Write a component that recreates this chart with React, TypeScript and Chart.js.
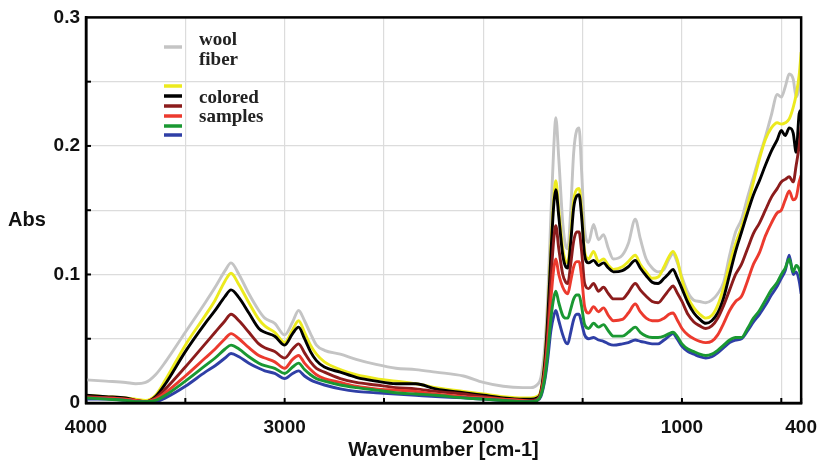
import React, { useEffect, useRef } from "react";
import { Chart, registerables } from "chart.js";
Chart.register(...registerables);

const wavenumbers = [
  4000, 3900, 3800, 3750, 3700, 3650, 3600, 3500, 3400, 3350,
  3300, 3270, 3230, 3180, 3130, 3100, 3050, 3000, 2960, 2930,
  2900, 2870, 2840, 2800, 2720, 2640, 2540, 2440, 2340, 2240,
  2100, 2000, 1900, 1800, 1760, 1730, 1710, 1690, 1675, 1660,
  1645, 1635, 1620, 1600, 1585, 1575, 1560, 1545, 1530, 1518,
  1505, 1490, 1470, 1445, 1420, 1395, 1370, 1345, 1300, 1270,
  1235, 1210, 1180, 1150, 1120, 1090, 1065, 1045, 1025, 1000,
  970, 940, 910, 880, 850, 820, 790, 760, 730, 700,
  670, 640, 610, 580, 550, 520, 500, 480, 460, 440,
  425, 410, 400,
];

const woolFiber = [
  0.018, 0.017, 0.016, 0.015, 0.016, 0.022, 0.032, 0.055, 0.078, 0.090,
  0.103, 0.109, 0.100, 0.085, 0.072, 0.066, 0.062, 0.053, 0.063, 0.072,
  0.064, 0.054, 0.045, 0.041, 0.038, 0.034, 0.030, 0.027, 0.026, 0.024,
  0.021, 0.016, 0.013, 0.012, 0.012, 0.014, 0.020, 0.045, 0.085, 0.145,
  0.200, 0.222, 0.190, 0.140, 0.122, 0.120, 0.150, 0.195, 0.212, 0.214,
  0.180, 0.135, 0.125, 0.139, 0.127, 0.131, 0.120, 0.112, 0.115, 0.124,
  0.143, 0.128, 0.112, 0.105, 0.102, 0.104, 0.112, 0.116, 0.110, 0.098,
  0.086, 0.080, 0.079, 0.078, 0.080, 0.085, 0.094, 0.115, 0.133, 0.143,
  0.160, 0.176, 0.192, 0.207, 0.224, 0.240, 0.238, 0.246, 0.256, 0.252,
  0.238, 0.246, 0.262,
];

const yellowSample = [
  0.006, 0.005, 0.004, 0.003, 0.002, 0.006, 0.018, 0.045, 0.068, 0.080,
  0.095, 0.101, 0.092, 0.078, 0.065, 0.060, 0.055, 0.047, 0.057, 0.064,
  0.055, 0.045, 0.038, 0.032, 0.026, 0.022, 0.019, 0.017, 0.015, 0.012,
  0.009, 0.007, 0.005, 0.004, 0.004, 0.005, 0.010, 0.035, 0.070, 0.120,
  0.160, 0.173, 0.150, 0.120, 0.110, 0.109, 0.130, 0.158, 0.166, 0.167,
  0.150, 0.118, 0.112, 0.118, 0.110, 0.112, 0.107, 0.104, 0.106, 0.110,
  0.115, 0.108, 0.102, 0.097, 0.098, 0.106, 0.114, 0.118, 0.112, 0.096,
  0.082, 0.074, 0.069, 0.066, 0.068, 0.076, 0.090, 0.108, 0.124, 0.137,
  0.153, 0.172, 0.190, 0.205, 0.214, 0.218, 0.217, 0.218, 0.221, 0.230,
  0.240, 0.255, 0.273,
];

const blackSample = [
  0.006, 0.005, 0.004, 0.002, 0.001, 0.005, 0.015, 0.040, 0.062, 0.072,
  0.083, 0.088, 0.082, 0.070, 0.058, 0.055, 0.052, 0.045, 0.054, 0.059,
  0.050, 0.040, 0.033, 0.028, 0.024, 0.020, 0.017, 0.015, 0.015, 0.011,
  0.008, 0.006, 0.004, 0.003, 0.003, 0.004, 0.009, 0.033, 0.068, 0.115,
  0.155, 0.166, 0.145, 0.115, 0.106, 0.105, 0.125, 0.152, 0.161, 0.162,
  0.145, 0.115, 0.109, 0.111, 0.107, 0.109, 0.105, 0.102, 0.103, 0.106,
  0.111, 0.105, 0.099, 0.094, 0.093, 0.097, 0.101, 0.104, 0.098, 0.089,
  0.078, 0.070, 0.065, 0.062, 0.064, 0.070, 0.082, 0.100, 0.118, 0.133,
  0.148, 0.162, 0.173, 0.185, 0.196, 0.205, 0.212, 0.208, 0.214, 0.210,
  0.195, 0.225, 0.228,
];

const brownSample = [
  0.005, 0.004, 0.003, 0.002, 0.001, 0.004, 0.011, 0.028, 0.046, 0.055,
  0.064, 0.069, 0.064, 0.055, 0.046, 0.043, 0.040, 0.035, 0.042, 0.046,
  0.039, 0.032, 0.027, 0.024, 0.019, 0.016, 0.014, 0.012, 0.011, 0.009,
  0.007, 0.005, 0.003, 0.002, 0.002, 0.003, 0.008, 0.028, 0.057, 0.095,
  0.128, 0.138, 0.120, 0.100, 0.094, 0.093, 0.108, 0.126, 0.133, 0.133,
  0.118, 0.093, 0.089, 0.093, 0.087, 0.090, 0.085, 0.081, 0.081, 0.086,
  0.093, 0.088, 0.083, 0.079, 0.078, 0.083, 0.088, 0.091, 0.086, 0.079,
  0.069, 0.063, 0.060, 0.058, 0.060, 0.066, 0.076, 0.088, 0.100, 0.108,
  0.120, 0.132, 0.140, 0.150, 0.160, 0.167, 0.172, 0.174, 0.176, 0.172,
  0.185, 0.200, 0.215,
];

const redSample = [
  0.004, 0.004, 0.003, 0.002, 0.001, 0.003, 0.008, 0.021, 0.035, 0.042,
  0.050, 0.054, 0.050, 0.043, 0.037, 0.035, 0.032, 0.027, 0.034, 0.037,
  0.031, 0.026, 0.022, 0.019, 0.016, 0.013, 0.011, 0.010, 0.009, 0.007,
  0.005, 0.004, 0.003, 0.002, 0.001, 0.002, 0.007, 0.025, 0.048, 0.080,
  0.105, 0.112, 0.100, 0.090, 0.086, 0.085, 0.095, 0.106, 0.110, 0.110,
  0.098, 0.075, 0.070, 0.075, 0.071, 0.074, 0.068, 0.064, 0.065, 0.070,
  0.077, 0.071, 0.066, 0.064, 0.064, 0.066, 0.069, 0.070, 0.065, 0.058,
  0.053, 0.050, 0.048, 0.047, 0.048, 0.053, 0.062, 0.072, 0.079, 0.083,
  0.095, 0.108, 0.117, 0.130, 0.140, 0.148, 0.150, 0.158, 0.165, 0.158,
  0.160, 0.172, 0.177,
];

const greenSample = [
  0.004, 0.003, 0.002, 0.001, 0.001, 0.002, 0.006, 0.017, 0.029, 0.035,
  0.042, 0.045, 0.042, 0.036, 0.031, 0.029, 0.027, 0.023, 0.028, 0.031,
  0.026, 0.022, 0.019, 0.017, 0.014, 0.012, 0.010, 0.008, 0.007, 0.006,
  0.004, 0.003, 0.002, 0.001, 0.001, 0.002, 0.006, 0.020, 0.040, 0.065,
  0.082, 0.087, 0.078, 0.068, 0.066, 0.066, 0.073, 0.081, 0.084, 0.084,
  0.075, 0.061, 0.058, 0.062, 0.059, 0.061, 0.056, 0.052, 0.052, 0.055,
  0.059, 0.055, 0.052, 0.051, 0.051, 0.052, 0.054, 0.055, 0.052, 0.046,
  0.042, 0.040, 0.038, 0.037, 0.038, 0.041, 0.045, 0.049, 0.051, 0.051,
  0.058, 0.066, 0.072, 0.080, 0.088, 0.094, 0.100, 0.105, 0.112, 0.102,
  0.107, 0.104, 0.097,
];

const blueSample = [
  0.003, 0.003, 0.002, 0.001, 0.001, 0.001, 0.004, 0.013, 0.024, 0.029,
  0.035, 0.0385, 0.036, 0.031, 0.027, 0.025, 0.023, 0.019, 0.023, 0.025,
  0.021, 0.018, 0.016, 0.014, 0.011, 0.009, 0.008, 0.007, 0.006, 0.005,
  0.004, 0.003, 0.002, 0.001, 0.001, 0.002, 0.005, 0.018, 0.035, 0.056,
  0.068, 0.072, 0.064, 0.053, 0.047, 0.046, 0.055, 0.065, 0.069, 0.069,
  0.062, 0.053, 0.050, 0.051, 0.049, 0.048, 0.046, 0.045, 0.046, 0.047,
  0.049, 0.048, 0.047, 0.046, 0.046, 0.049, 0.052, 0.054, 0.050, 0.044,
  0.040, 0.038, 0.036, 0.035, 0.036, 0.039, 0.043, 0.047, 0.049, 0.050,
  0.056, 0.063, 0.069, 0.076, 0.084, 0.091, 0.097, 0.103, 0.115, 0.100,
  0.102, 0.095, 0.085,
];

const xGridTicks = [4000, 3500, 3000, 2500, 2000, 1500, 1000, 500, 400];
const xLabelTicks = [4000, 3000, 2000, 1000, 400];

const woolLabel = ["wool", "fiber"];
const samplesLabel = ["colored", "samples"];
const sampleColors = ["#ecea1e", "#000000", "#8c1c1c", "#ec3a2e", "#1a9832", "#2f3fa6"];
const woolColor = "#c4c4c4";

export default function App() {
  const ref = useRef<HTMLCanvasElement>(null);

  useEffect(() => {
    if (!ref.current) return;
    const mk = (label: string, vals: number[], color: string, order: number) => ({
      label,
      data: wavenumbers.map((w, i) => ({ x: w, y: vals[i] })),
      borderColor: color,
      backgroundColor: color,
      borderWidth: 2.9,
      pointRadius: 0,
      fill: false,
      cubicInterpolationMode: "monotone" as const,
      order,
    });

    const decor = {
      id: "decor",
      afterDraw(chart: any) {
        const ctx = chart.ctx;
        const a = chart.chartArea;
        const xs = chart.scales.x;
        const ys = chart.scales.y;
        ctx.save();
        // inner tick marks
        ctx.strokeStyle = "#000";
        ctx.lineWidth = 2;
        xGridTicks.forEach((v) => {
          const px = xs.getPixelForValue(v);
          ctx.beginPath();
          ctx.moveTo(px, a.bottom);
          ctx.lineTo(px, a.bottom - 5);
          ctx.stroke();
        });
        [0.05, 0.1, 0.15, 0.2, 0.25].forEach((v) => {
          const py = ys.getPixelForValue(v);
          ctx.beginPath();
          ctx.moveTo(a.left, py);
          ctx.lineTo(a.left + 5, py);
          ctx.stroke();
        });
        // frame
        ctx.lineWidth = 2.5;
        ctx.strokeRect(a.left, a.top, a.right - a.left, a.bottom - a.top);

        // Abs label
        ctx.fillStyle = "#111";
        ctx.font = "bold 20px 'Liberation Sans', Arial, sans-serif";
        ctx.textAlign = "center";
        ctx.textBaseline = "middle";
        ctx.fillText("Abs", 27, 220);

        // legend
        ctx.lineCap = "butt";
        ctx.lineWidth = 3.5;
        ctx.strokeStyle = woolColor;
        ctx.beginPath();
        ctx.moveTo(164, 47);
        ctx.lineTo(182, 47);
        ctx.stroke();
        const ys2 = [86, 96, 106, 116, 126, 135];
        sampleColors.forEach((c, i) => {
          ctx.strokeStyle = c;
          ctx.beginPath();
          ctx.moveTo(164, ys2[i]);
          ctx.lineTo(182, ys2[i]);
          ctx.stroke();
        });
        ctx.fillStyle = "#222";
        ctx.font = "bold 19px 'Liberation Serif', 'Times New Roman', serif";
        ctx.textAlign = "left";
        ctx.textBaseline = "alphabetic";
        ctx.fillText(woolLabel[0], 199, 45);
        ctx.fillText(woolLabel[1], 199, 65);
        ctx.fillText(samplesLabel[0], 199, 103);
        ctx.fillText(samplesLabel[1], 199, 122);
        ctx.restore();
      },
    };

    const chart = new Chart(ref.current, {
      type: "line",
      data: {
        datasets: [
          mk("wool fiber", woolFiber, woolColor, 7),
          mk("yellow", yellowSample, sampleColors[0], 6),
          mk("black", blackSample, sampleColors[1], 5),
          mk("brown", brownSample, sampleColors[2], 4),
          mk("red", redSample, sampleColors[3], 3),
          mk("blue", blueSample, sampleColors[5], 2),
          mk("green", greenSample, sampleColors[4], 1),
        ],
      },
      options: {
        animation: false,
        responsive: false,
        devicePixelRatio: 1,
        layout: { padding: { left: 0, right: 20, top: 13, bottom: 0 } },
        plugins: { legend: { display: false }, tooltip: { enabled: false } },
        scales: {
          x: {
            type: "linear",
            reverse: true,
            min: 400,
            max: 4000,
            afterBuildTicks: (scale: any) => {
              scale.ticks = xGridTicks.map((v) => ({ value: v }));
            },
            afterFit: (scale: any) => {
              scale.height = 63;
            },
            grid: {
              drawTicks: false,
              color: (c: any) => (c.tick && c.tick.value === 400 ? "rgba(0,0,0,0)" : "#dcdcdc"),
              lineWidth: 1.2,
            },
            border: { color: "#000", width: 2.5 },
            ticks: {
              autoSkip: false,
              maxRotation: 0,
              padding: 13,
              color: "#111",
              font: { family: "'Liberation Sans', Arial, sans-serif", size: 19, weight: "bold" },
              callback: (v: any) => (xLabelTicks.includes(Number(v)) ? String(v) : ""),
            },
            title: {
              display: true,
              text: "Wavenumber [cm-1]",
              color: "#111",
              font: { family: "'Liberation Sans', Arial, sans-serif", size: 20, weight: "bold" },
              padding: { top: 0, bottom: 4 },
            },
          },
          y: {
            min: 0,
            max: 0.3,
            afterFit: (scale: any) => {
              scale.width = 86;
            },
            grid: { drawTicks: false, color: "#dcdcdc", lineWidth: 1.2 },
            border: { color: "#000", width: 2.5 },
            ticks: {
              stepSize: 0.05,
              padding: 6,
              color: "#111",
              font: { family: "'Liberation Sans', Arial, sans-serif", size: 19, weight: "bold" },
              callback: (v: any) => {
                const r = Math.round(Number(v) * 100);
                if (r % 10 !== 0) return "";
                return r === 0 ? "0" : (r / 100).toFixed(1);
              },
            },
          },
        },
      },
      plugins: [decor],
    });
    return () => chart.destroy();
  }, []);

  return (
    <div style={{ position: "absolute", left: 0, top: 0, width: 830, height: 466, background: "#fff" }}>
      <canvas ref={ref} width={830} height={466} />
    </div>
  );
}
